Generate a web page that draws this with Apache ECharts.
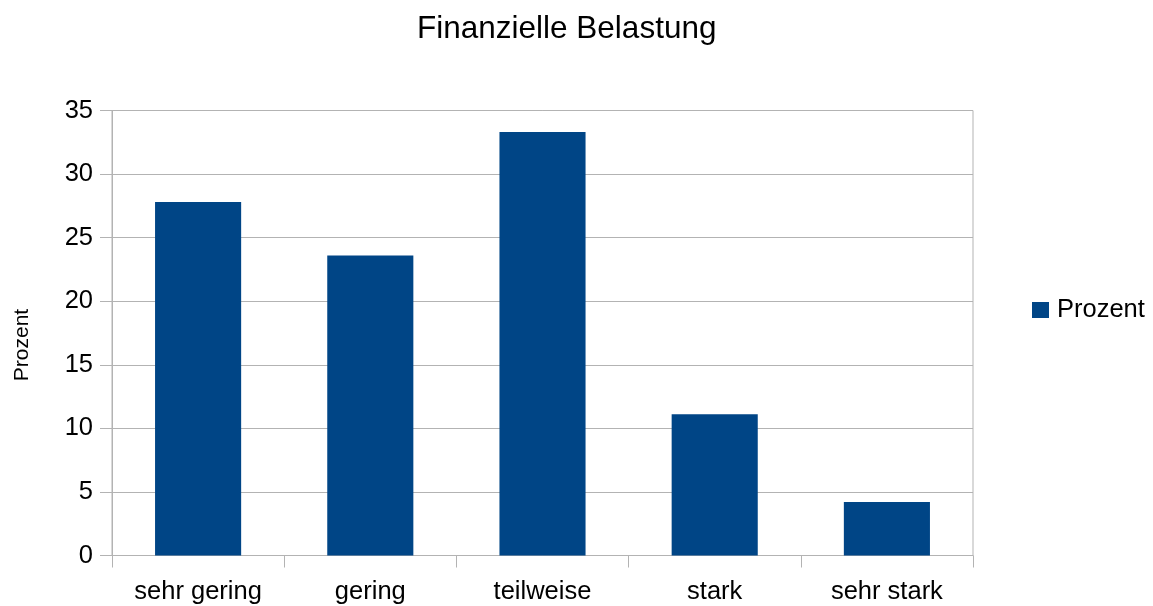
<!DOCTYPE html>
<html>
<head>
<meta charset="utf-8">
<script src="https://cdn.jsdelivr.net/npm/echarts@6/dist/echarts.min.js"></script>
<style>
html,body{margin:0;padding:0;background:#fff;}
#chart{width:1153px;height:606px;}
</style>
</head>
<body>
<div id="chart"></div>
<script>
const titleText = 'Finanzielle Belastung';
const categories = ['sehr gering', 'gering', 'teilweise', 'stark', 'sehr stark'];
const seriesName = 'Prozent';
const values = [27.8, 23.6, 33.3, 11.1, 4.2];
const yAxisName = 'Prozent';
const yMin = 0, yMax = 35, yStep = 5;

const FONT = '"Liberation Sans", Arial, sans-serif';
const GRID = '#b3b3b3';
const LABEL_SIZE = 25.5;

const chart = echarts.init(document.getElementById('chart'), null, {renderer: 'canvas'});
chart.setOption({
  backgroundColor: '#ffffff',
  animation: false,
  textStyle: {fontFamily: FONT, color: '#000'},
  title: {
    text: titleText,
    left: 412,
    top: 8,
    textStyle: {fontFamily: FONT, fontSize: 31.5, fontWeight: 'normal', color: '#000'}
  },
  legend: {
    orient: 'vertical',
    left: 1032,
    top: 297,
    padding: 0,
    itemWidth: 17,
    itemHeight: 16,
    itemGap: 8,
    icon: 'rect',
    textStyle: {fontFamily: FONT, fontSize: LABEL_SIZE, color: '#000', padding: [0, 0, 0, 3]},
    data: [seriesName]
  },
  grid: {
    left: 112,
    right: 180,
    top: 110.5,
    bottom: 50.5,
    show: true,
    borderColor: GRID,
    borderWidth: 1,
    containLabel: false,
    outerBoundsMode: 'none'
  },
  xAxis: {
    type: 'category',
    data: categories,
    axisLine: {show: true, lineStyle: {color: GRID, width: 1}},
    axisTick: {show: true, length: 12, alignWithLabel: false, lineStyle: {color: GRID}},
    axisLabel: {fontFamily: FONT, fontSize: LABEL_SIZE, color: '#000', margin: 23},
    splitLine: {show: false}
  },
  yAxis: {
    type: 'value',
    min: yMin,
    max: yMax,
    interval: yStep,
    name: yAxisName,
    nameLocation: 'middle',
    nameGap: 79,
    nameRotate: 90,
    nameTextStyle: {fontFamily: FONT, fontSize: 21, color: '#000', padding: [0, 24, 0, 0]},
    axisLine: {show: true, lineStyle: {color: GRID, width: 1}},
    axisTick: {show: true, length: 12, lineStyle: {color: GRID}},
    axisLabel: {fontFamily: FONT, fontSize: LABEL_SIZE, color: '#000', margin: 19},
    splitLine: {show: true, lineStyle: {color: GRID, width: 1}}
  },
  series: [{
    name: seriesName,
    type: 'bar',
    data: values,
    barWidth: '50%',
    itemStyle: {color: '#004586'}
  }]
});
</script>
</body>
</html>
